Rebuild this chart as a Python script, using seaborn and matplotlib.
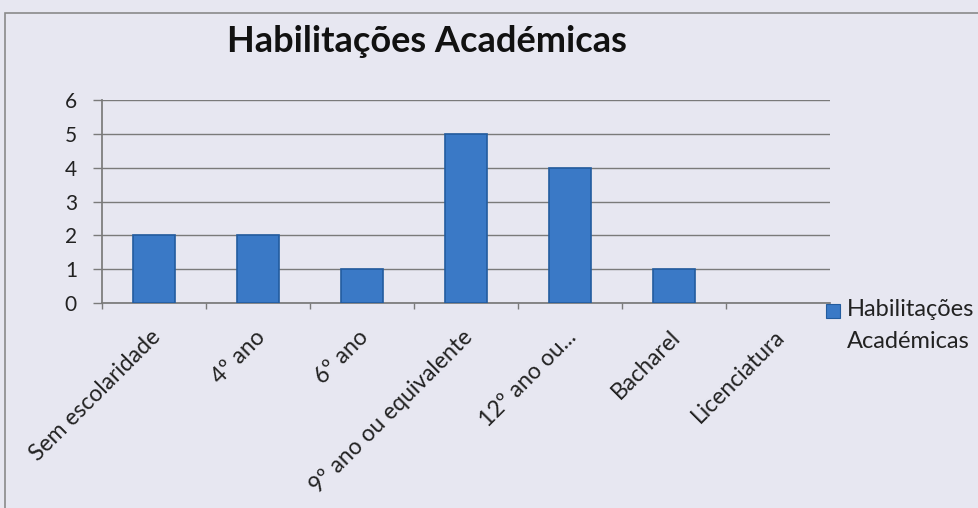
import matplotlib
matplotlib.use("Agg")
import matplotlib.pyplot as plt
import seaborn as sns
import pandas as pd
from matplotlib.patches import Rectangle

categories = ["Sem escolaridade", "4º ano", "6º ano", "9º ano ou equivalente",
              "12º ano ou...", "Bacharel", "Licenciatura"]
values = [2, 2, 1, 5, 4, 1, 0]
series_name = "Habilitações Académicas"
legend_lines = ["Habilitações", "Académicas"]
yticks = [0, 1, 2, 3, 4, 5, 6]

sns.set_theme(style="white")
plt.rcParams['font.family'] = ['Lato', 'DejaVu Sans']

df = pd.DataFrame({"cat": categories, "val": values})

W, H = 979, 508
px = 72 / 100  # points per pixel at dpi 100
fig = plt.figure(figsize=(W / 100, H / 100), dpi=100)
bg = "#E7E7F1"
fig.patch.set_facecolor(bg)

# outer chart border
fig.add_artist(Rectangle((5 / W, -0.05), 1.1, 1 - 13 / H + 0.05, transform=fig.transFigure,
                         fill=False, edgecolor="#8A8A8A", linewidth=1.2))

ax = fig.add_axes([102 / W, 1 - 303 / H, (830 - 102) / W, (303 - 100) / H])
ax.set_facecolor(bg)

sns.barplot(data=df, x="cat", y="val", ax=ax, color="#3A79C6", width=0.4,
            edgecolor="#235C9F", linewidth=1.2, saturation=1, zorder=3)
for p in ax.patches:
    if p.get_height() == 0:
        p.set_visible(False)

ax.set_ylim(0, 6)
ax.set_xlim(-0.5, len(categories) - 0.5)
ax.set_yticks(yticks)
ax.set_yticklabels([str(v) for v in yticks], fontsize=15, color="#222222")
for y in yticks:
    ax.axhline(y, color="#7A7A7A", linewidth=1.0, zorder=1)

# category boundary ticks on the x axis
ax.set_xticks([i - 0.5 for i in range(len(categories))], minor=False)
ax.set_xticklabels([])
ax.tick_params(axis="x", which="major", direction="out", length=6 * px, color="#7A7A7A",
               bottom=True, width=1)
ax.tick_params(axis="y", direction="out", length=9 * px, color="#7A7A7A", left=True,
               width=1, pad=16 * px)

for i, c in enumerate(categories):
    ax.annotate(c, xy=(i, 0), xycoords=("data", "axes fraction"),
                xytext=(2 * px, -29 * px), textcoords="offset points",
                rotation=45, ha="right", va="center_baseline", rotation_mode="anchor",
                fontsize=16.5, color="#222222")

for s in ["top", "right"]:
    ax.spines[s].set_visible(False)
ax.spines["left"].set_color("#7A7A7A")
ax.spines["bottom"].set_color("#7A7A7A")
ax.set_xlabel("")
ax.set_ylabel("")

fig.text(427 / W, 1 - 42 / H, series_name, ha="center", va="center",
         fontsize=26, fontweight="bold", color="#111111")

# legend
fig.add_artist(Rectangle((826 / W, 1 - 318 / H), 14 / W, 14 / H, transform=fig.transFigure,
                         facecolor="#3A79C6", edgecolor="#235C9F", linewidth=0.8))
fig.text(847 / W, 1 - 310 / H, legend_lines[0], ha="left", va="center",
         fontsize=17, color="#222222")
fig.text(847 / W, 1 - 341 / H, legend_lines[1], ha="left", va="center",
         fontsize=17, color="#222222")

fig.savefig("out.png", dpi=100, facecolor=bg)
